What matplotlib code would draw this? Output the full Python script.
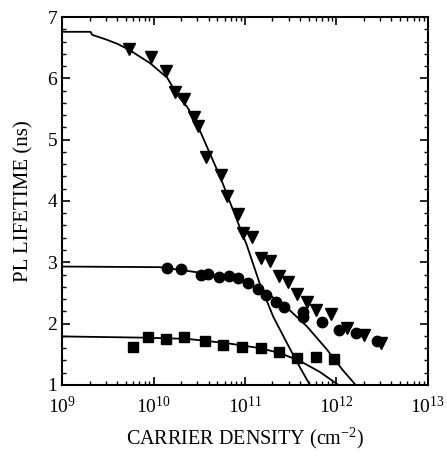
import matplotlib
matplotlib.use("Agg")
import matplotlib.pyplot as plt
import numpy as np
from matplotlib.ticker import LogLocator, MultipleLocator

plt.rcParams["font.family"] = "Liberation Serif"
plt.rcParams["mathtext.fontset"] = "custom"
plt.rcParams["mathtext.rm"] = "Liberation Serif"
plt.rcParams["mathtext.it"] = "Liberation Serif"

# measured points, x given as log10(carrier density)
tri_logn = [9.73, 9.97, 10.14, 10.24, 10.33, 10.44, 10.49, 10.57, 10.74, 10.80,
            10.92, 10.98, 11.08, 11.18, 11.27, 11.37, 11.47, 11.57, 11.68, 11.78,
            11.94, 12.12, 12.30, 12.49]
tri_tau = [6.48, 6.35, 6.12, 5.78, 5.66, 5.37, 5.22, 4.72, 4.42, 4.08,
           3.79, 3.48, 3.41, 3.07, 3.02, 2.78, 2.68, 2.48, 2.35, 2.22,
           2.16, 1.93, 1.82, 1.69]

circ_logn = [10.15, 10.30, 10.52, 10.60, 10.72, 10.83, 10.92, 11.03, 11.14, 11.23,
             11.34, 11.43, 11.63, 11.63, 11.84, 12.03, 12.22, 12.44]
circ_tau = [2.91, 2.89, 2.79, 2.81, 2.76, 2.78, 2.75, 2.66, 2.57, 2.47,
            2.35, 2.27, 2.19, 2.11, 2.03, 1.90, 1.85, 1.72]

sq_logn = [9.78, 9.94, 10.14, 10.33, 10.56, 10.76, 10.97, 11.18, 11.37, 11.57,
           11.78, 11.97]
sq_tau = [1.62, 1.78, 1.75, 1.78, 1.72, 1.65, 1.62, 1.60, 1.54, 1.44,
          1.46, 1.42]

# fitted curves
fit_tri_logn = [9.0, 9.31, 9.33, 9.49, 9.61, 9.74, 9.96, 10.15, 10.26, 10.37, 10.48,
                10.60, 10.73, 10.87, 11.02, 11.16, 11.31, 11.46, 11.60, 11.71]
fit_tri_tau = [6.76, 6.76, 6.71, 6.63, 6.56, 6.46, 6.25, 6.01, 5.73, 5.53, 5.24,
               4.83, 4.39, 3.85, 3.28, 2.66, 2.11, 1.68, 1.29, 1.00]

fit_circ_logn = [9.0, 10.07, 10.51, 10.80, 11.02, 11.24, 11.46, 11.68, 11.90, 12.07, 12.21]
fit_circ_tau = [2.93, 2.92, 2.83, 2.76, 2.66, 2.50, 2.26, 1.95, 1.57, 1.24, 1.00]

fit_sq_logn = [9.0, 9.89, 10.37, 10.80, 11.16, 11.38, 11.60, 11.82, 12.02]
fit_sq_tau = [1.79, 1.77, 1.75, 1.68, 1.60, 1.52, 1.39, 1.21, 1.00]


def dens(v):
    return 10.0 ** np.array(v)


fig = plt.figure(figsize=(4.47, 4.62), dpi=100)
ax = fig.add_axes([0.139, 0.167, 0.818, 0.796])

for lx, ly in [(fit_tri_logn, fit_tri_tau), (fit_circ_logn, fit_circ_tau),
               (fit_sq_logn, fit_sq_tau)]:
    ax.plot(dens(lx), ly, "-", color="black", lw=1.3)

ax.plot(dens(tri_logn), tri_tau, "v", color="black", ms=8.5, ls="none")
ax.plot(dens(circ_logn), circ_tau, "o", color="black", ms=7.5, ls="none")
ax.plot(dens(sq_logn), sq_tau, "s", color="black", ms=6.5, ls="none")

ax.set_xscale("log")
ax.set_xlim(1e9, 1e13)
ax.set_ylim(1, 7)
ax.xaxis.set_major_locator(LogLocator(base=10, numticks=10))
ax.xaxis.set_minor_locator(LogLocator(base=10, subs=np.arange(2, 10), numticks=10))
ax.yaxis.set_major_locator(MultipleLocator(1))
ax.yaxis.set_minor_locator(MultipleLocator(0.2))
ax.tick_params(which="both", direction="in", top=True, right=True, labelsize=14)
ax.tick_params(which="major", length=6, width=1.2)
ax.tick_params(which="minor", length=3, width=1.0)
ax.tick_params(axis="x", pad=8)
for s in ax.spines.values():
    s.set_linewidth(1.5)

ax.set_xlabel(r"CARRIER DENSITY (cm$^{-2}$)", fontsize=14.5, labelpad=6)
ax.set_ylabel("PL LIFETIME (ns)", fontsize=15, labelpad=10)

fig.savefig("out.png", dpi=100)
